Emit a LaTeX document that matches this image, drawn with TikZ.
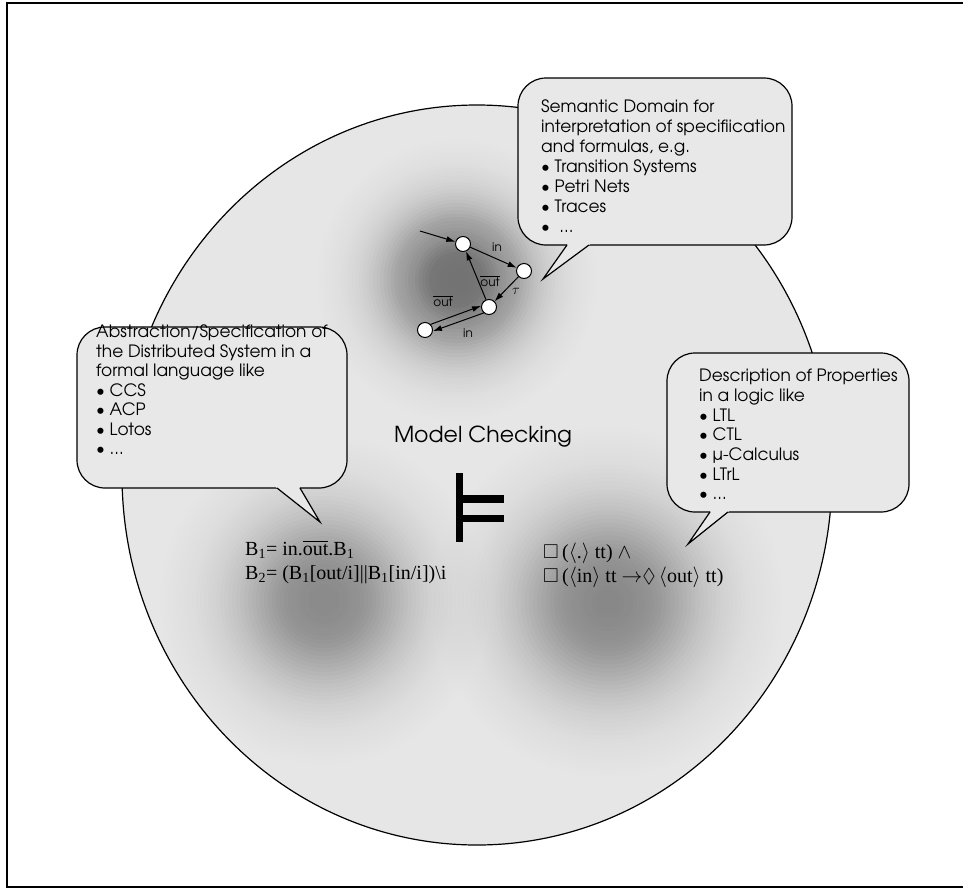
\documentclass[tikz,border=0pt]{standalone}
\usepackage{fontspec}
\usepackage{amssymb}
\setmainfont{Liberation Serif}
\newfontfamily\gothic{TeX Gyre Adventor}
\usetikzlibrary{arrows.meta,calc}
\definecolor{cfill}{HTML}{E6E6E6}
\definecolor{bfill}{HTML}{E8E8E8}
% soft dark spot built from many faint rings: #1 centre, #2 max darkness, #3 spread, #4 outer radius
\newcommand{\blobrings}[4]{%
  \foreach \k in {1,...,60}{%
    \pgfmathsetmacro\rc{\k*#4/60}%
    \pgfmathsetmacro\rp{(\k-1)*#4/60}%
    \pgfmathsetmacro\dc{#2*exp(-(\rc/#3)^2)}%
    \pgfmathsetmacro\dp{#2*exp(-(\rp/#3)^2)}%
    \pgfmathsetmacro\oo{1-(1-\dp)/(1-\dc)}%
    \fill[black, opacity=\oo] #1 circle (\rc pt);
  }}
\tikzset{
  txt/.style={font=\gothic\fontsize{17}{20}\selectfont, align=left, inner sep=0pt, anchor=north west},
  formula/.style={font=\fontsize{20}{24}\selectfont, inner sep=0pt, anchor=base west},
  bubble/.style={draw=black, line width=1.2pt, fill=bfill, rounded corners=28pt},
  state/.style={circle, draw, fill=white, minimum size=15pt, inner sep=0pt, line width=1pt},
  tr/.style={-{Latex[length=9pt,width=6pt]}, line width=1pt},
  lbl/.style={font=\gothic\fontsize{12}{14}\selectfont, inner sep=1pt}
}
\begin{document}
\begin{tikzpicture}[x=1pt,y=-1pt]
\useasboundingbox (0,0) rectangle (963,889);
% frame
\draw[line width=2.5pt] (963,3) -- (7,3) -- (7,887) -- (963,887);
% big round area with shaded regions
\coordinate (C) at (477,475);
\begin{scope}
  \clip (C) ellipse [x radius=355pt, y radius=370pt];
  \fill[cfill] (C) ellipse [x radius=355pt, y radius=370pt];
  \blobrings{(457,280)}{0.45}{72}{210}
  \blobrings{(324,600)}{0.34}{88}{240}
  \blobrings{(608,602)}{0.35}{95}{250}
\end{scope}
\draw[line width=1.2pt] (C) ellipse [x radius=355pt, y radius=370pt];
% semantic bubble
\coordinate (st) at (543,279);
\coordinate (sb1) at (567,245);
\coordinate (sb2) at (589,245);
\draw[bubble] (518,78) rectangle (792,245);
\fill[bfill] (st) -- ($(st)!1.12!(sb1)$) -- ($(st)!1.12!(sb2)$) -- cycle;
\draw[line width=1.2pt] (sb1) -- (st) -- (sb2);
% abstraction bubble
\coordinate (at) at (320,522);
\coordinate (ab1) at (277,488);
\coordinate (ab2) at (300,488);
\draw[bubble] (77,327) rectangle (347,488);
\fill[bfill] (at) -- ($(at)!1.1!(ab1)$) -- ($(at)!1.1!(ab2)$) -- cycle;
\draw[line width=1.2pt] (ab1) -- (at) -- (ab2);
% properties bubble
\coordinate (pt) at (688,544);
\coordinate (pb1) at (710,512);
\coordinate (pb2) at (728,512);
\draw[bubble] (667,353) rectangle (909,512);
\fill[bfill] (pt) -- ($(pt)!1.12!(pb1)$) -- ($(pt)!1.12!(pb2)$) -- cycle;
\draw[line width=1.2pt] (pb1) -- (pt) -- (pb2);
% bubble texts
\node[txt] (sem) at (541,100) {Semantic Domain for\\interpretation of specifiication\\and formulas, e.g.\\\textbullet\ Transition Systems\\\textbullet\ Petri Nets\\\textbullet\ Traces\\\textbullet\ \ ...};
\node[txt, font=\gothic\fontsize{17}{19.5}\selectfont] (abs) at (96,325) {Abstraction/Specification of\\the Distributed System in a\\formal language like\\\textbullet\ CCS\\\textbullet\ ACP\\\textbullet\ Lotos\\\textbullet\ ...};
\node[txt, font=\gothic\fontsize{17}{19.7}\selectfont] (prop) at (699,369) {Description of Properties\\in a logic like\\\textbullet\ LTL\\\textbullet\ CTL\\\textbullet\ µ-Calculus\\\textbullet\ LTrL\\\textbullet\ ...};
% model checking
\node[font=\gothic\fontsize{22}{26}\selectfont, inner sep=0pt] (mc) at (483,437) {Model Checking};
\fill (456,473) rectangle (463,542);
\fill (456,495) rectangle (504,503);
\fill (456,515) rectangle (504,522);
% formulas
\node[formula] (f1) at (245,555) {B\textsubscript{1}= in.$\overline{\mbox{out}}$.B\textsubscript{1}};
\node[formula] (f2) at (245,579) {B\textsubscript{2}= (B\textsubscript{1}[out/i]||B\textsubscript{1}[in/i])\textbackslash i};
\node[formula] (g1) at (543,558) {$\square$\,($\langle$.$\rangle$ tt) $\wedge$};
\node[formula] (g2) at (543,582) {$\square$\,($\langle$in$\rangle$ tt $\rightarrow$$\Diamond$\,$\langle$out$\rangle$ tt)};
% transition system
\node[state] (s1) at (463,244) {};
\node[state] (s2) at (524,271) {};
\node[state] (s3) at (489,307) {};
\node[state] (s4) at (425,330) {};
\coordinate (init) at (420,231);
\draw[tr] (init) -- (s1);
\draw[tr] (s1) -- (s2);
\draw[tr] (s2) -- (s3);
\draw[tr] (s3) -- (s1);
\draw[tr] (s4.45) -- (s3.172);
\draw[tr] (s3.228) -- (s4.-8);
\node[lbl] (l1) at (497,247) {in};
\node[lbl, font=\gothic\fontsize{14}{16}\selectfont] (l2) at (516,291) {$\tau$};
\node[lbl] (l3) at (490,281) {$\overline{\mbox{out}}$};
\node[lbl] (l4) at (443,301) {$\overline{\mbox{out}}$};
\node[lbl] (l5) at (468,333) {in};
\end{tikzpicture}
\end{document}
